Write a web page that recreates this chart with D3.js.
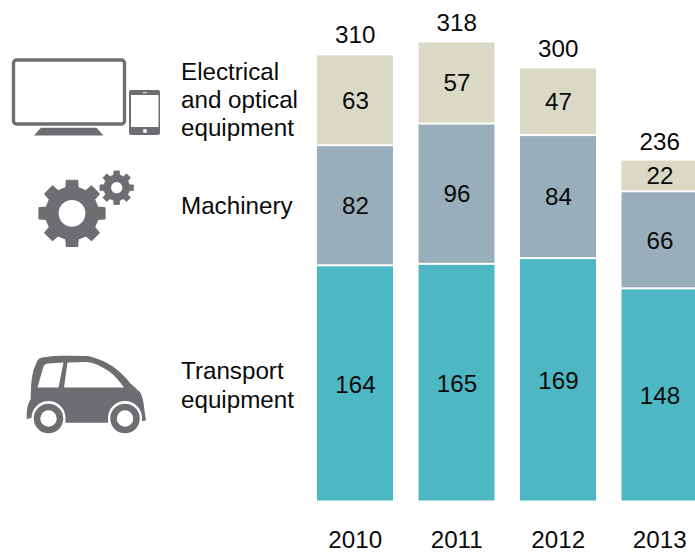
<!DOCTYPE html>
<html><head><meta charset="utf-8">
<script src="https://cdn.jsdelivr.net/npm/d3@7"></script>
<style>html,body{margin:0;padding:0;background:#fff;overflow:hidden}svg{display:block}text{font-family:"Liberation Sans",Arial,sans-serif;font-size:24.2px;fill:#0a0a0a}</style>
</head><body><div id="c"></div>
<script>
const years = ["2010","2011","2012","2013"];
const transport = [164,165,169,148];
const machinery = [82,96,84,66];
const electrical = [63,57,47,22];
const totals = [310,318,300,236];
const seriesNames = ["Transport","Machinery","Electrical"];
const seriesColors = ["#4DB8C3","#98AEBB","#D9D9C5"];
const iconColor = "#6D6E71";

const W=695,H=553;
const svg=d3.select("#c").append("svg").attr("width",W).attr("height",H);
const x=d3.scaleBand().domain(years).range([317,697.5]).paddingInner(0.2512).paddingOuter(0).align(0);
const y=d3.scaleLinear().domain([0,310]).range([500.5,54]);
const series=[transport,machinery,electrical];
const topShift=[2,0,0], bottomShift=[0,0,-2], labelShift=[9.5,8.7,8.7];

years.forEach((yr,i)=>{
  let base=0;
  series.forEach((s,k)=>{
    const top=base+s[i];
    const y0=y(base)+bottomShift[k], y1=y(top)+topShift[k];
    svg.append("rect").attr("x",x(yr)).attr("width",x.bandwidth())
      .attr("y",y1).attr("height",y0-y1).attr("fill",seriesColors[k]);
    svg.append("text").attr("x",x(yr)+x.bandwidth()/2+0.5).attr("y",(y0+y1)/2+labelShift[k])
      .attr("text-anchor","middle").text(s[i]);
    base=top;
  });
  svg.append("text").attr("x",x(yr)+x.bandwidth()/2+0.2).attr("y",y(totals[i])-11).attr("text-anchor","middle").text(totals[i]);
  svg.append("text").attr("x",x(yr)+x.bandwidth()/2+0.2).attr("y",548).attr("text-anchor","middle").text(yr);
});

// row labels
[[["Electrical",80],["and optical",108],["equipment",136]],[["Machinery",214]],[["Transport",379],["equipment",408]]]
 .flat().forEach(([t,b])=>svg.append("text").attr("x",181).attr("y",b).text(t));

// icons
const icons=svg.append("g");
icons.append("rect").attr("x",13.5).attr("y",60).attr("width",111).attr("height",64).attr("rx",3).attr("fill","none").attr("stroke",iconColor).attr("stroke-width",3.4);
icons.append("path").attr("d","M34,135.5L41,127.7H96.5L103.5,135.5Z").attr("fill",iconColor);
icons.append("rect").attr("x",129).attr("y",90).attr("width",31).attr("height",45).attr("rx",2).attr("fill",iconColor);
icons.append("rect").attr("x",131).attr("y",95).attr("width",27.5).attr("height",32).attr("fill","#fff");
icons.append("circle").attr("cx",145).attr("cy",131).attr("r",2).attr("fill","#fff");
icons.append("rect").attr("x",143).attr("y",92.3).attr("width",4).attr("height",0.9).attr("fill","#fff");

function gear(cx,cy,ro,ri,hole,teeth,rot){
  let d="";
  const step=2*Math.PI/teeth;
  for(let i=0;i<teeth;i++){
    const a=i*step+rot;
    const p=[[ri,a-step*0.30],[ro,a-step*0.21],[ro,a+step*0.21],[ri,a+step*0.30]];
    p.forEach(([r,t],j)=>{d+=(i===0&&j===0?"M":"L")+(cx+r*Math.cos(t)).toFixed(2)+","+(cy+r*Math.sin(t)).toFixed(2);});
  }
  d+="Z M"+(cx+hole)+","+cy+"A"+hole+","+hole+" 0 1,0 "+(cx-hole)+","+cy+"A"+hole+","+hole+" 0 1,0 "+(cx+hole)+","+cy+"Z";
  return d;
}
icons.append("path").attr("d",gear(72,213.3,33.5,26.5,14,8,0)).attr("fill",iconColor).attr("fill-rule","evenodd").attr("stroke",iconColor).attr("stroke-width",1.2).attr("stroke-linejoin","round");
icons.append("path").attr("d",gear(116.7,187.7,17,13,6,8,0)).attr("fill",iconColor).attr("fill-rule","evenodd").attr("stroke",iconColor).attr("stroke-width",.7).attr("stroke-linejoin","round");

// car
icons.append("path").attr("fill",iconColor).attr("d","M26.7,418.5C26.7,410 27,405 30.7,399L31,387C32,376 33,370 36,364C37,360 39,358 42,357.5C50,356 58,355.7 67,355.7L88,356C96,358 102,360 107,363C116,368 124,375 130,383L140,392C142,396 143,399 143.5,403L146,420.5L142,421V418A17,17 0 0,0 108,418V422.7H65.5V418A17,17 0 0,0 31.5,418L26.7,419Z");
icons.append("path").attr("fill","#fff").attr("d","M37.5,387.5L43,368C44,365 45,364 48,363.5L63.5,362.5L58.5,387.5Z");
icons.append("path").attr("fill","#fff").attr("d","M64,387.5L67.5,362.5L87,362C95,363 103,367 110,372C115,376 120,382 124,387.5Z");
[48.5,125].forEach(cx=>{
  icons.append("circle").attr("cx",cx).attr("cy",418.5).attr("r",11.5).attr("fill","#fff").attr("stroke",iconColor).attr("stroke-width",6.5);
});
</script></body></html>
